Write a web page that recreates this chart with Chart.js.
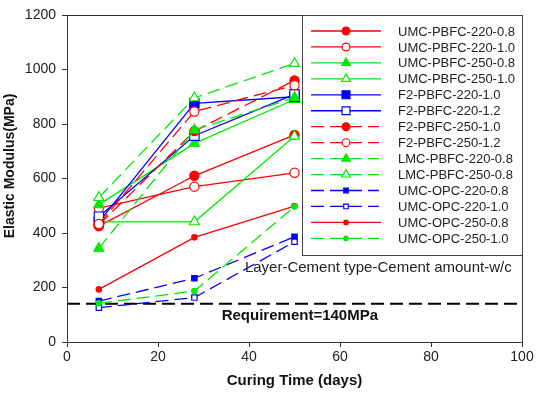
<!DOCTYPE html>
<html>
<head>
<meta charset="utf-8">
<script src="https://cdn.jsdelivr.net/npm/chart.js@4.4.0/dist/chart.umd.min.js"></script>
<style>
  html, body { margin: 0; padding: 0; background: #fff; }
</style>
</head>
<body>
<canvas id="ModulusChart" width="536" height="394"></canvas>
<script>
// curing ages (days)
const days = [7, 28, 50];

// elastic modulus (MPa), one array per mix
const umcPbfc220_08 = [425, 610, 760];
const umcPbfc220_10 = [491, 570, 621];
const umcPbfc250_08 = [504, 729, 890];
const umcPbfc250_10 = [441, 441, 755];
const f2Pbfc220_10  = [440, 876, 900];
const f2Pbfc220_12  = [460, 757, 909];
const f2Pbfc250_10  = [430, 774, 960];
const f2Pbfc250_12  = [433, 846, 942];
const lmcPbfc220_08 = [344, 778, 897];
const lmcPbfc250_08 = [530, 896, 1022];
const umcOpc220_08  = [150, 234, 386];
const umcOpc220_10  = [126, 163, 368];
const umcOpc250_08  = [193, 384, 499];
const umcOpc250_10  = [142, 187, 497];

const seriesNames = [
    'UMC-PBFC-220-0.8', 'UMC-PBFC-220-1.0', 'UMC-PBFC-250-0.8', 'UMC-PBFC-250-1.0',
    'F2-PBFC-220-1.0', 'F2-PBFC-220-1.2', 'F2-PBFC-250-1.0', 'F2-PBFC-250-1.2',
    'LMC-PBFC-220-0.8', 'LMC-PBFC-250-0.8', 'UMC-OPC-220-0.8', 'UMC-OPC-220-1.0',
    'UMC-OPC-250-0.8', 'UMC-OPC-250-1.0'
];
const seriesValues = [
    umcPbfc220_08, umcPbfc220_10, umcPbfc250_08, umcPbfc250_10,
    f2Pbfc220_10, f2Pbfc220_12, f2Pbfc250_10, f2Pbfc250_12,
    lmcPbfc220_08, lmcPbfc250_08, umcOpc220_08, umcOpc220_10,
    umcOpc250_08, umcOpc250_10
];

// requirement line (MPa) and axis ticks
const requirement = 140;
const xTicks = [0, 20, 40, 60, 80, 100];
const yTicks = [0, 200, 400, 600, 800, 1000, 1200];

const RED = 'rgb(255,0,0)', GREEN = 'rgb(0,235,0)', BLUE = 'rgb(0,0,255)';
const DASH = [13, 6];
// color, dashed, marker, filled, radius
const styles = [
    [RED, false, 'circle', true, 4.6],
    [RED, false, 'circle', false, 4.6],
    [GREEN, false, 'triangle', true, 5.8],
    [GREEN, false, 'triangle', false, 5.8],
    [BLUE, false, 'rect', true, 6.6],
    [BLUE, false, 'rect', false, 6.6],
    [RED, true, 'circle', true, 4.6],
    [RED, true, 'circle', false, 4.6],
    [GREEN, true, 'triangle', true, 5.8],
    [GREEN, true, 'triangle', false, 5.8],
    [BLUE, true, 'rect', true, 3.8],
    [BLUE, true, 'rect', false, 3.8],
    [RED, false, 'circle', true, 2.7],
    [GREEN, true, 'circle', true, 2.7]
];

const FONT = "'Liberation Sans', Arial, sans-serif";

const datasets = seriesNames.map((name, i) => {
    const [color, dashed, marker, filled, r] = styles[i];
    return {
        label: name,
        data: days.map((d, j) => ({ x: d, y: seriesValues[i][j] })),
        borderColor: color,
        borderWidth: 1.3,
        borderDash: dashed ? DASH : [],
        pointStyle: marker,
        pointRadius: r,
        pointBorderWidth: 1.2,
        pointBorderColor: color,
        pointBackgroundColor: filled ? color : '#fff',
        order: seriesNames.length - i,
        fill: false,
        tension: 0
    };
});

datasets.push({
    label: 'Requirement',
    data: [{ x: 0, y: requirement }, { x: 100, y: requirement }],
    borderColor: '#000',
    borderWidth: 2,
    borderDash: DASH,
    pointRadius: 0,
    order: 100,
    fill: false
});

function drawMarker(ctx, marker, x, y, r, fill, stroke) {
    ctx.beginPath();
    if (marker === 'circle') {
        ctx.arc(x, y, r, 0, Math.PI * 2);
    } else if (marker === 'triangle') {
        for (let k = 0; k < 3; k++) {
            const a = k * 2 * Math.PI / 3;
            const px = x + Math.sin(a) * r, py = y - Math.cos(a) * r;
            if (k === 0) ctx.moveTo(px, py); else ctx.lineTo(px, py);
        }
        ctx.closePath();
    } else {
        const s = r * Math.SQRT1_2;
        ctx.rect(x - s, y - s, 2 * s, 2 * s);
    }
    ctx.fillStyle = fill;
    ctx.fill();
    ctx.lineWidth = 1.2;
    ctx.strokeStyle = stroke;
    ctx.stroke();
}

const framePlugin = {
    id: 'frame',
    afterDraw(chart) {
        const ctx = chart.ctx;
        const a = chart.chartArea;
        const xs = chart.scales.x, ys = chart.scales.y;
        ctx.save();

        // plot frame
        ctx.strokeStyle = '#333';
        ctx.lineWidth = 1;
        ctx.setLineDash([]);
        ctx.strokeRect(Math.round(a.left) + 0.5, Math.round(a.top) + 0.5,
                       Math.round(a.right - a.left), Math.round(a.bottom - a.top));

        // legend box
        const lx = a.right - 220, ly = a.top, lw = 220, lh = 240;
        ctx.fillStyle = '#fff';
        ctx.fillRect(lx, ly, lw, lh);
        ctx.strokeStyle = '#444';
        ctx.strokeRect(Math.round(lx) + 0.5, Math.round(ly) + 0.5, lw, lh);

        ctx.font = '13px ' + FONT;
        ctx.textBaseline = 'middle';
        ctx.textAlign = 'left';
        seriesNames.forEach((name, i) => {
            const [color, dashed, marker, filled, r] = styles[i];
            const y = ly + 16 + i * 15.95;
            ctx.setLineDash(dashed ? DASH : []);
            ctx.strokeStyle = color;
            ctx.lineWidth = 1.3;
            ctx.beginPath();
            ctx.moveTo(lx + 9, y);
            ctx.lineTo(lx + (dashed ? 77 : 79), y);
            ctx.stroke();
            ctx.setLineDash([]);
            drawMarker(ctx, marker, lx + 44, y, r * 0.85, filled ? color : '#fff', color);
            ctx.fillStyle = '#222';
            ctx.fillText(name, lx + 96, y + 1);
        });

        // annotations
        ctx.fillStyle = '#222';
        ctx.font = '15px ' + FONT;
        ctx.fillText('Layer-Cement type-Cement amount-w/c', xs.getPixelForValue(39.1), ys.getPixelForValue(272));
        ctx.font = 'bold 15px ' + FONT;
        ctx.fillStyle = '#111';
        ctx.fillText('Requirement=' + requirement + 'MPa', xs.getPixelForValue(34), ys.getPixelForValue(95));

        // y axis title
        ctx.translate(10, 166);
        ctx.rotate(-Math.PI / 2);
        ctx.textAlign = 'center';
        ctx.font = 'bold 14px ' + FONT;
        ctx.fillText('Elastic Modulus(MPa)', 0, 0);
        ctx.restore();
    }
};

const ctx_Modulus = document.getElementById('ModulusChart').getContext('2d');
new Chart(ctx_Modulus, {
    type: 'line',
    data: { datasets: datasets },
    options: {
        responsive: false,
        animation: false,
        devicePixelRatio: 1,
        layout: { padding: { top: 15, right: 14, left: 0, bottom: 0 } },
        plugins: { legend: { display: false }, tooltip: { enabled: false } },
        scales: {
            x: {
                type: 'linear',
                min: 0, max: 100,
                afterBuildTicks: s => { s.ticks = xTicks.map(v => ({ value: v })); },
                afterFit: s => { s.height = 52; },
                grid: { drawOnChartArea: false, drawTicks: true, tickLength: 5, color: '#333' },
                border: { display: false },
                ticks: { color: '#222', font: { family: FONT, size: 14 }, padding: 2, maxRotation: 0,
                         callback: v => String(v) },
                title: { display: true, text: 'Curing Time (days)', color: '#111',
                         font: { family: FONT, size: 15, weight: 'bold' }, padding: { top: 1 } }
            },
            y: {
                type: 'linear',
                min: 0, max: 1200,
                afterBuildTicks: s => { s.ticks = yTicks.map(v => ({ value: v })); },
                afterFit: s => { s.width = 67; },
                grid: { drawOnChartArea: false, drawTicks: true, tickLength: 5, color: '#333' },
                border: { display: false },
                ticks: { color: '#222', font: { family: FONT, size: 14 }, padding: 6,
                         callback: v => String(v) }
            }
        }
    },
    plugins: [framePlugin]
});
</script>
</body>
</html>
